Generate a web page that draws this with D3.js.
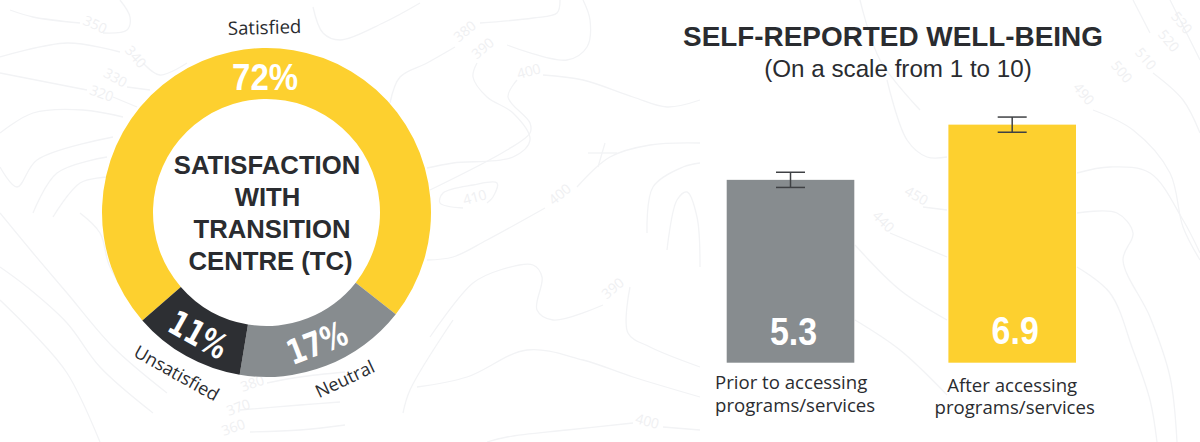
<!DOCTYPE html>
<html><head><meta charset="utf-8">
<script src="https://cdn.jsdelivr.net/npm/d3@7"></script>
<style>html,body{margin:0;padding:0;background:#fff}svg{display:block}</style>
</head><body><svg id="c" width="1200" height="442"></svg>
<script>
// Data
const donutLabels = ["Satisfied","Neutral","Unsatisfied"];
const donutValues = [72,17,11];
const donutCentre = ["SATISFACTION","WITH","TRANSITION","CENTRE (TC)"];
const barLabels = [["Prior to accessing","programs/services"],["After accessing","programs/services"]];
const barValues = [5.3,6.9];
const barErrors = [0.22,0.22];

const YELLOW="#fdd02f",GREY="#878c8f",DARK="#2d2f33",TEXT="#2a2c30";
const svg=d3.select("#c");
const sans="Liberation Sans, Arial, sans-serif", soft="'Open Sans', sans-serif", slab="'DejaVu Sans', sans-serif";

// Faint topographic backdrop (decoration only, not data)
const topoA=[ // left part
 [[10,10],[33,17],[80,23]],[[103,33],[127,30],[130,17],[120,0]],
 [[0,57],[67,43],[120,52]],[[143,63],[160,75],[187,63]],
 [[127,87],[150,90]],[[0,73],[87,90]],[[113,97],[137,107]],
 [[0,133],[33,113],[83,110],[123,117]],[[0,167],[17,187],[37,160],[113,137]],
 [[33,213],[57,173],[107,157]],[[53,217],[80,183],[107,177]],
 [[0,213],[33,253],[67,293],[113,347],[167,393]],[[0,267],[27,287],[67,323],[100,367],[153,413]],
 [[80,213],[100,233],[110,267],[143,317]],[[0,300],[33,333],[67,373],[100,442]],
 [[267,383],[300,377],[345,372]],[[240,410],[300,405],[340,402]],[[250,432],[300,430],[345,425]]];
const topoB=[ // centre part
 [[313,7],[323,33],[340,40],[383,23],[420,3]],[[480,23],[533,18],[557,13],[560,0]],
 [[455,47],[427,63],[400,77],[390,103]],[[507,45],[567,60],[587,47],[590,20],[583,0]],
 [[477,63],[473,77],[487,97],[513,113],[530,140],[513,157],[453,163],[427,168]],
 [[543,75],[583,80],[633,97],[667,107],[700,100]],[[517,80],[508,97],[530,123],[530,133],[507,150],[430,190]],
 [[463,208],[440,203],[443,193],[473,185],[497,183],[493,197],[487,203]],
 [[577,187],[610,157],[650,145],[700,143]],[[545,208],[487,240],[453,257],[427,260]],
 [[603,305],[553,320],[537,310],[542,277],[533,265],[500,270],[473,283],[430,337]],
 [[453,320],[410,390],[403,413]],
 [[630,287],[628,333],[650,347],[700,367]],[[647,233],[653,187],[683,167],[700,163]],
 [[667,250],[677,200],[687,192],[697,217],[700,267]],
 [[417,387],[467,377],[527,350],[583,360],[633,377],[700,397]],
 [[663,427],[700,430]],[[633,423],[567,430],[507,437],[487,442]],
 [[588,153],[617,153]],[[605,143],[598,167]]];
const topoC=[ // right part
 [[1077,173],[1110,167],[1150,173],[1183,220],[1200,253]],
 [[1077,213],[1117,213],[1133,233],[1123,260],[1150,317],[1170,377],[1177,442]],
 [[1077,267],[1110,293],[1133,350],[1150,400],[1157,442]],
 [[1093,110],[1133,130],[1170,173],[1183,227],[1200,260]],
 [[1153,73],[1183,100],[1200,133]],[[1133,0],[1150,33]],[[1170,0],[1200,60]],
 [[887,80],[907,140],[927,157],[947,157]],[[923,207],[947,210]],[[890,233],[947,257]],
 [[860,0],[880,60],[920,110]],[[855,245],[900,290],[947,320]],[[855,320],[900,350],[947,395]]];
const topoLabels=[["350",93,29,25],["340",132,60,50],["330",113,82,30],["320",100,98,20],
 ["380",254,388,-20],["370",240,412,-20],["360",235,432,-20],
 ["380",468,35,-40],["390",486,52,-40],["400",530,76,-15],["410",476,202,-15],["400",563,198,-40],
 ["390",616,292,-40],["400",646,426,15],["450",914,200,30],["440",880,225,45],
 ["490",1080,97,50],["500",1118,75,50],["510",1142,62,50],["520",1165,44,50],["530",1178,26,50]];
const topoLine=d3.line().curve(d3.curveCatmullRom);
svg.append("g").attr("fill","none").attr("stroke","#f2f3f5").attr("stroke-width",1.3)
 .selectAll("path").data([...topoA,...topoB,...topoC]).join("path").attr("d",topoLine);
svg.append("g").attr("fill","#eff0f2").attr("font-family",soft).attr("font-size",14)
 .selectAll("text").data(topoLabels).join("text").attr("text-anchor","middle")
 .attr("transform",d=>`translate(${d[1]},${d[2]}) rotate(${d[3]})`).text(d=>d[0]);

// Donut
const cx=266.5,cy=212.5,R=164.5,r=113.5;
const g=svg.append("g").attr("transform",`translate(${cx},${cy})`);
const start=-131*Math.PI/180;
const pie=d3.pie().sort(null).value(d=>d).startAngle(start).endAngle(start+2*Math.PI);
const arc=d3.arc().innerRadius(r).outerRadius(R);
const colour=d3.scaleOrdinal().domain(donutLabels).range([YELLOW,GREY,DARK]);
const arcs=pie(donutValues);
g.selectAll("path").data(arcs).join("path").attr("d",arc).attr("fill",(d,i)=>colour(donutLabels[i]));

const labelShift=[0,-4,0], midR=(R+r)/2;
arcs.forEach((d,i)=>{
  const mid=i===0?-0.01:(d.startAngle+d.endAngle)/2;
  const deg=mid*180/Math.PI;
  const rot=i===0?0:deg-180;
  const pr=i===0?136.5:midR+0.5;
  const x=Math.sin(mid)*pr,y=-Math.cos(mid)*pr;
  g.append("text").attr("transform",`translate(${x},${y}) rotate(${rot}) scale(${i===0?0.88:0.76},1)`)
   .attr("text-anchor","middle").attr("dy","0.36em")
   .attr("font-family",i===0?sans:slab).attr("font-weight",700).attr("font-size",i===0?37.5:34).attr("fill","#fff")
   .text(d.data+"%");
  const lm=i===0?-0.01:mid+labelShift[i]*Math.PI/180, lr=R+13;
  const lx=Math.sin(lm)*lr,ly=-Math.cos(lm)*lr;
  const lrot=i===0?-1.5:lm*180/Math.PI-180;
  g.append("text").attr("transform",`translate(${lx},${i===0?ly-1:ly}) rotate(${lrot})`)
   .attr("text-anchor","middle").attr("dy",i===0?"0":"0.72em")
   .attr("font-family",soft).attr("font-size",i===0?18.6:18).attr("fill",TEXT)
   .text(donutLabels[i]);
});
const centreShift=[0.5,1,5.5,4];
donutCentre.forEach((t,i)=>{
  g.append("text").attr("x",centreShift[i]).attr("y",-39+i*32.3).attr("text-anchor","middle")
   .attr("font-family",sans).attr("font-weight",700).attr("font-size",25.7).attr("fill",TEXT).text(t);
});

// Bars
const baseY=362.7,topY=17.7;
const y=d3.scaleLinear().domain([0,10]).range([baseY,topY]);
const x=d3.scaleBand().domain(d3.range(barValues.length)).range([726.7,1076]).paddingInner(0.4244);
const bw=x.bandwidth();
const barColour=[GREY,YELLOW];
svg.selectAll("rect.bar").data(barValues).join("rect").attr("class","bar")
 .attr("x",(d,i)=>x(i)).attr("width",bw).attr("y",d=>y(d)).attr("height",d=>y(0)-y(d))
 .attr("fill",(d,i)=>barColour[i]);
barValues.forEach((v,i)=>{
  const c=x(i)+bw/2, e=barErrors[i], cap=14.5;
  const eg=svg.append("g").attr("stroke","#3f4144").attr("stroke-width",1.5).attr("fill","none");
  eg.append("line").attr("x1",c).attr("x2",c).attr("y1",y(v+e)).attr("y2",y(v-e));
  eg.append("line").attr("x1",c-cap).attr("x2",c+cap).attr("y1",y(v+e)).attr("y2",y(v+e));
  eg.append("line").attr("x1",c-cap).attr("x2",c+cap).attr("y1",y(v-e)).attr("y2",y(v-e));
  svg.append("text").attr("transform",`translate(${c+3},${i===0?345:343.5}) scale(0.87,1)`).attr("text-anchor","middle")
   .attr("font-family",sans).attr("font-weight",700).attr("font-size",39).attr("fill","#fff").text(v.toFixed(1));
  const lab=svg.append("text").attr("font-family",soft).attr("font-size",18.6).attr("fill",TEXT)
    .attr("text-anchor",i===0?"start":"middle");
  const ly=i===0?388.7:391.5;
  barLabels[i].forEach((t,j)=>{
    lab.append("tspan").attr("x",i===0?715:(j===0?c:c+2.5)).attr("y",ly+j*22.8).text(t);
  });
});
// Titles
svg.append("text").attr("x",893).attr("y",46).attr("text-anchor","middle")
 .attr("font-family",sans).attr("font-weight",700).attr("font-size",27.9).attr("fill",TEXT).text("SELF-REPORTED WELL-BEING");
svg.append("text").attr("x",898).attr("y",77).attr("text-anchor","middle")
 .attr("font-family",sans).attr("font-size",24.2).attr("fill",TEXT).text("(On a scale from 1 to 10)");
</script></body></html>
